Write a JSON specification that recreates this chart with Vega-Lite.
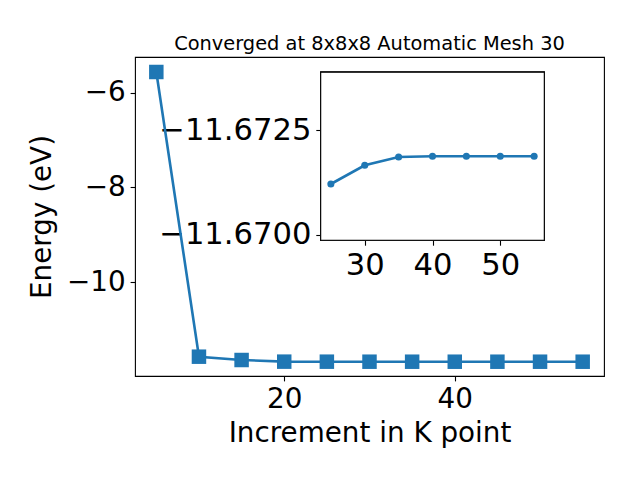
{
  "$schema": "https://vega.github.io/schema/vega-lite/v6.json",
  "autosize": "none",
  "width": 469,
  "height": 319,
  "padding": {"left": 135, "top": 57, "right": 36, "bottom": 104},
  "background": "white",
  "config": {
    "view": {"stroke": "black", "strokeWidth": 1.1},
    "font": "DejaVu Sans",
    "axis": {"grid": false, "domain": false, "tickColor": "black", "tickSize": 4.9, "tickWidth": 1.1, "labelPadding": 4.9, "labelFont": "DejaVu Sans", "labelFontSize": 27.8, "labelColor": "black", "titleFont": "DejaVu Sans", "titleFontSize": 27.8, "titleFontWeight": "normal", "titleColor": "black"}
  },
  "title": {"text": "Converged at 8x8x8 Automatic Mesh 30", "font": "DejaVu Sans", "fontSize": 19.4, "fontWeight": "normal", "color": "black", "anchor": "middle", "baseline": "alphabetic", "offset": -12},
  "datasets": {
    "main": [
      {"k": 5, "energy": -5.566},
      {"k": 10, "energy": -11.566},
      {"k": 15, "energy": -11.636},
      {"k": 20, "energy": -11.6705},
      {"k": 25, "energy": -11.671214},
      {"k": 30, "energy": -11.671662},
      {"k": 35, "energy": -11.671861},
      {"k": 40, "energy": -11.671877},
      {"k": 45, "energy": -11.671877},
      {"k": 50, "energy": -11.671877},
      {"k": 55, "energy": -11.671877}
    ],
    "inset": [
      {"k": 25, "energy": -11.671214},
      {"k": 30, "energy": -11.671662},
      {"k": 35, "energy": -11.671861},
      {"k": 40, "energy": -11.671877},
      {"k": 45, "energy": -11.671877},
      {"k": 50, "energy": -11.671877},
      {"k": 55, "energy": -11.671877}
    ]
  },
  "layer": [
    {
      "data": {"name": "main"},
      "mark": {"type": "line", "color": "#1f77b4", "strokeWidth": 2.6, "point": {"shape": "square", "size": 210, "filled": true, "color": "#1f77b4", "opacity": 1}},
      "encoding": {
        "x": {"field": "k", "type": "quantitative", "scale": {"domain": [2.5, 57.5], "nice": false, "zero": false}, "axis": {"orient": "bottom", "values": [20, 40], "title": "Increment in K point", "titlePadding": 6}},
        "y": {"field": "energy", "type": "quantitative", "scale": {"domain": [-11.973, -5.25], "nice": false, "zero": false}, "axis": {"orient": "left", "values": [-10, -8, -6], "format": "d", "title": "Energy (eV)", "titlePadding": 10}}
      }
    },
    {
      "data": {"name": "inset"},
      "layer": [
        {
          "mark": {"type": "rect", "fill": "white", "stroke": "black", "strokeWidth": 1.1},
          "encoding": {
            "x": {"datum": 23.5, "type": "quantitative"},
            "x2": {"datum": 56.5},
            "y": {"datum": -11.673889, "type": "quantitative"},
            "y2": {"datum": -11.669866}
          }
        },
        {
          "mark": {"type": "line", "color": "#1f77b4", "strokeWidth": 2.6, "point": {"shape": "circle", "size": 50, "filled": true, "color": "#1f77b4", "opacity": 1}},
          "encoding": {
            "x": {"field": "k", "type": "quantitative"},
            "y": {"field": "energy", "type": "quantitative"}
          }
        }
      ],
      "encoding": {
        "x": {"type": "quantitative", "scale": {"domain": [23.5, 56.5], "range": [185.7, 409.3], "nice": false, "zero": false}, "axis": {"orient": "bottom", "offset": -135.7, "values": [30, 40, 50], "title": null, "labelFontSize": 30.6}},
        "y": {"type": "quantitative", "scale": {"domain": [-11.673889, -11.669866], "range": [15.3, 183.3], "nice": false, "zero": false}, "axis": {"orient": "left", "offset": -185.7, "values": [-11.6725, -11.67], "format": ".4f", "title": null, "labelFontSize": 30.6}}
      }
    }
  ],
  "resolve": {"scale": {"x": "independent", "y": "independent"}, "axis": {"x": "independent", "y": "independent"}}
}
